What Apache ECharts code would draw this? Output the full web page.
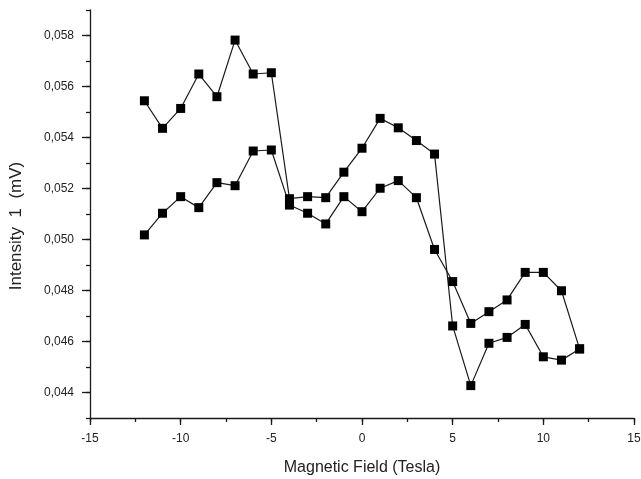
<!DOCTYPE html>
<html>
<head>
<meta charset="utf-8">
<script src="https://cdn.jsdelivr.net/npm/echarts@6/dist/echarts.min.js"></script>
<style>
html,body{margin:0;padding:0;background:#fff;}
#c{width:641px;height:479px;}
</style>
</head>
<body>
<div id="c"></div>
<script>
var fieldValues = [-12,-11,-10,-9,-8,-7,-6,-5,-4,-3,-2,-1,0,1,2,3,4,5,6,7,8,9,10,11,12];
var seriesA = [0.05544,0.05436,0.05514,0.05649,0.05560,0.05782,0.05649,0.05654,0.05160,0.05168,0.05164,0.05264,0.05358,0.05475,0.05438,0.05388,0.05335,0.04661,0.04427,0.04593,0.04616,0.04667,0.04540,0.04527,0.04571];
var seriesB = [0.05018,0.05103,0.05168,0.05125,0.05223,0.05211,0.05347,0.05351,0.05135,0.05103,0.05061,0.05168,0.05109,0.05201,0.05231,0.05164,0.04961,0.04835,0.04671,0.04717,0.04763,0.04871,0.04871,0.04799,0.04571];
var yMajorTicks = [0.044,0.046,0.048,0.050,0.052,0.054,0.056,0.058];

function pairs(xs, ys){ return xs.map(function(x,i){ return [x, ys[i]]; }); }

var FONT = "'Liberation Sans', Arial, sans-serif";
var lineCol = '#1a1a1a';

var chart = echarts.init(document.getElementById('c'), null, {renderer:'canvas'});
chart.setOption({
  backgroundColor: '#ffffff',
  animation: false,
  grid: {left: 90, right: 7, top: 10, bottom: 61, containLabel: false, outerBoundsMode: 'none'},
  xAxis: [{
    type: 'value', min: -15, max: 15, interval: 2.5,
    name: 'Magnetic Field (Tesla)', nameLocation: 'middle', nameGap: 42,
    nameTextStyle: {fontFamily: FONT, fontSize: 16, color: '#222'},
    axisLine: {show: true, onZero: false, lineStyle: {color: lineCol, width: 1.3}},
    axisTick: {show: true, inside: false, length: 4, lineStyle: {color: lineCol, width: 1.3}},
    axisLabel: {fontFamily: FONT, fontSize: 12, color: '#222', margin: 15,
      formatter: function(v){ return (Math.round(v*10) % 50 === 0) ? String(v) : ''; }},
    splitLine: {show: false}
  },{
    type: 'value', min: -15, max: 15, interval: 5, position: 'bottom',
    axisLine: {show: false, onZero: false}, axisLabel: {show: false}, splitLine: {show: false},
    axisTick: {show: true, length: 7, lineStyle: {color: lineCol, width: 1.3}}
  }],
  yAxis: [{
    type: 'value', min: 0.043, max: 0.059, interval: 0.001,
    name: 'Intensity  1  (mV)', nameLocation: 'middle', nameGap: 65,
    nameTextStyle: {fontFamily: FONT, fontSize: 17, color: '#222', padding: [0, 24, 0, 0]},
    axisLine: {show: true, onZero: false, lineStyle: {color: lineCol, width: 1.3}},
    axisTick: {show: true, length: 4, lineStyle: {color: lineCol, width: 1.3}},
    axisLabel: {fontFamily: FONT, fontSize: 12, color: '#222', margin: 16,
      formatter: function(v){ var k = Math.round(v*1000); return (k % 2 === 0) ? (k/1000).toFixed(3).replace('.', ',') : ''; }},
    splitLine: {show: false}
  },{
    type: 'value', min: 0.043, max: 0.059, position: 'left',
    axisLine: {show: false, onZero: false}, axisLabel: {show: false}, splitLine: {show: false},
    axisTick: {show: true, length: 8, customValues: yMajorTicks, lineStyle: {color: lineCol, width: 1.3}}
  }],
  series: [{
    type: 'line', data: pairs(fieldValues, seriesA),
    symbol: 'rect', symbolSize: 9,
    lineStyle: {color: lineCol, width: 1.2},
    itemStyle: {color: '#000'}
  },{
    type: 'line', data: pairs(fieldValues, seriesB),
    symbol: 'rect', symbolSize: 9,
    lineStyle: {color: lineCol, width: 1.2},
    itemStyle: {color: '#000'}
  }]
});
</script>
</body>
</html>
